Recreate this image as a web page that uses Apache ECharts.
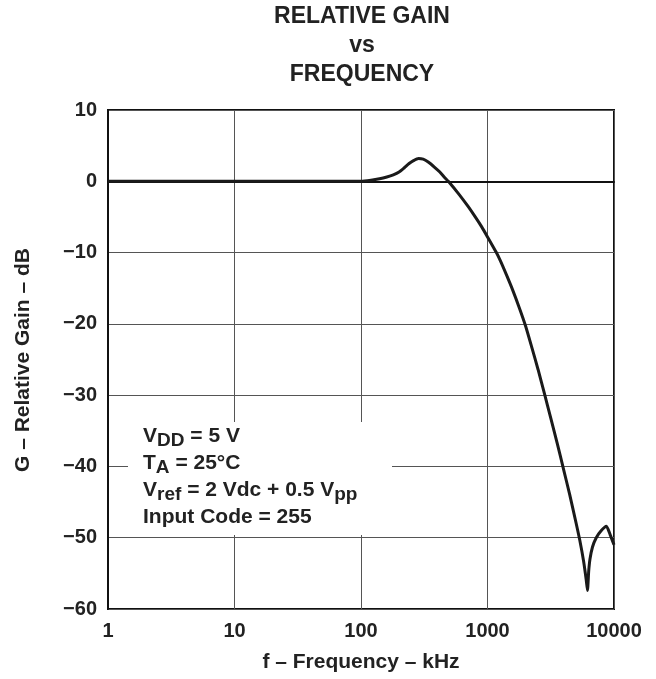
<!DOCTYPE html>
<html>
<head>
<meta charset="utf-8">
<script src="https://cdn.jsdelivr.net/npm/echarts@6/dist/echarts.min.js"></script>
<style>
html,body{margin:0;padding:0;background:#fff;}
#chart{width:656px;height:679px;}
</style>
</head>
<body>
<div id="chart"></div>
<script>
// Frequency (kHz) and relative gain (dB)
const freqKHz = [1, 10, 50, 100, 120, 140, 160, 180, 200, 220, 240, 260, 285, 310, 340, 380, 420, 460, 490,
  600, 700, 800, 900, 1000, 1175, 1260, 1410, 1585, 1780, 2000, 2240, 2510, 2820, 3160, 3550, 3980, 4470,
  5010, 5370, 5750, 6030, 6170, 6310, 6460, 6760, 7240, 7940, 8710, 9330, 10000];
const gainDb = [0, 0, 0, 0, 0.15, 0.35, 0.6, 0.9, 1.3, 1.9, 2.5, 2.9, 3.2, 3.1, 2.7, 2.0, 1.3, 0.5, 0.0,
  -1.9, -3.5, -5.0, -6.4, -7.8, -10.0, -11.1, -13.1, -15.3, -17.7, -20.3, -23.3, -26.4, -29.8, -33.2, -36.7, -40.3, -44.0,
  -47.9, -50.4, -53.3, -55.9, -57.4, -54.7, -53.0, -51.3, -50.0, -49.0, -48.4, -49.6, -51.0];
const titleLines = ['RELATIVE GAIN', 'vs', 'FREQUENCY'];
const xTicks = [1, 10, 100, 1000, 10000];
const yRange = [-60, 10];
const conditionLines = [
  '{b|V}{s|DD}{b| = 5 V}',
  '{b|T}{s|A}{b| = 25°C}',
  '{b|V}{s|ref}{b| = 2 Vdc + 0.5 V}{s|pp}',
  '{b|Input Code = 255}'
];

const FONT = '"Liberation Sans", Arial, sans-serif';
const INK = '#222';
const chart = echarts.init(document.getElementById('chart'), null, {renderer: 'canvas'});
const gridL = 108, gridR = 42, gridT = 110, gridB = 70;

chart.setOption({
  animation: false,
  backgroundColor: '#fff',
  grid: {left: gridL, right: gridR, top: gridT, bottom: gridB, show: true, borderColor: '#111', borderWidth: 2, backgroundColor: 'transparent'},
  xAxis: {
    type: 'log', logBase: 10, min: xTicks[0], max: xTicks[xTicks.length - 1],
    name: 'f – Frequency – kHz', nameLocation: 'middle', nameGap: 43,
    nameTextStyle: {fontFamily: FONT, fontWeight: 'bold', fontSize: 21, color: INK},
    axisLine: {show: true, lineStyle: {color: '#111', width: 2}},
    axisTick: {show: false},
    axisLabel: {fontFamily: FONT, fontWeight: 'bold', fontSize: 20, color: INK, margin: 12,
      formatter: v => String(Math.round(v))},
    splitLine: {show: true, lineStyle: {color: '#555', width: 1}}
  },
  yAxis: {
    type: 'value', min: yRange[0], max: yRange[1], interval: 10,
    axisLine: {show: true, lineStyle: {color: '#111', width: 2}},
    axisTick: {show: false},
    axisLabel: {fontFamily: FONT, fontWeight: 'bold', fontSize: 20, color: INK, margin: 11,
      formatter: v => v < 0 ? '\u2212' + Math.abs(v) : String(v)},
    splitLine: {show: true, lineStyle: {color: '#555', width: 1}}
  },
  graphic: [
    {type: 'text', z: 10, x: 362, y: 2,
      style: {text: titleLines.join('\n'), fontFamily: FONT, fontWeight: 'bold', fontSize: 23, lineHeight: 29,
        fill: INK, textAlign: 'center', textVerticalAlign: 'top'}},
    {type: 'text', z: 10, x: 23, y: 360, rotation: Math.PI / 2,
      style: {text: 'G – Relative Gain – dB', fontFamily: FONT, fontWeight: 'bold', fontSize: 21, fill: INK,
        textAlign: 'center', textVerticalAlign: 'middle'}},
    {type: 'rect', z: 5, shape: {x: 128, y: 422, width: 264, height: 113}, style: {fill: '#fff'}},
    {type: 'text', z: 10, x: 143, y: 423,
      style: {
        text: conditionLines.join('\n'),
        fontFamily: FONT,
        rich: {
          b: {fontFamily: FONT, fontWeight: 'bold', fontSize: 21, lineHeight: 27, fill: INK, verticalAlign: 'middle'},
          s: {fontFamily: FONT, fontWeight: 'bold', fontSize: 19, lineHeight: 15.6, fill: INK, verticalAlign: 'bottom'}
        }
      }}
  ],
  series: [{
    type: 'line', data: freqKHz.map((f, i) => [f, gainDb[i]]),
    showSymbol: false, symbol: 'none', smooth: 0.2,
    lineStyle: {color: '#1a1a1a', width: 3}, z: 3
  }]
});
</script>
</body>
</html>
